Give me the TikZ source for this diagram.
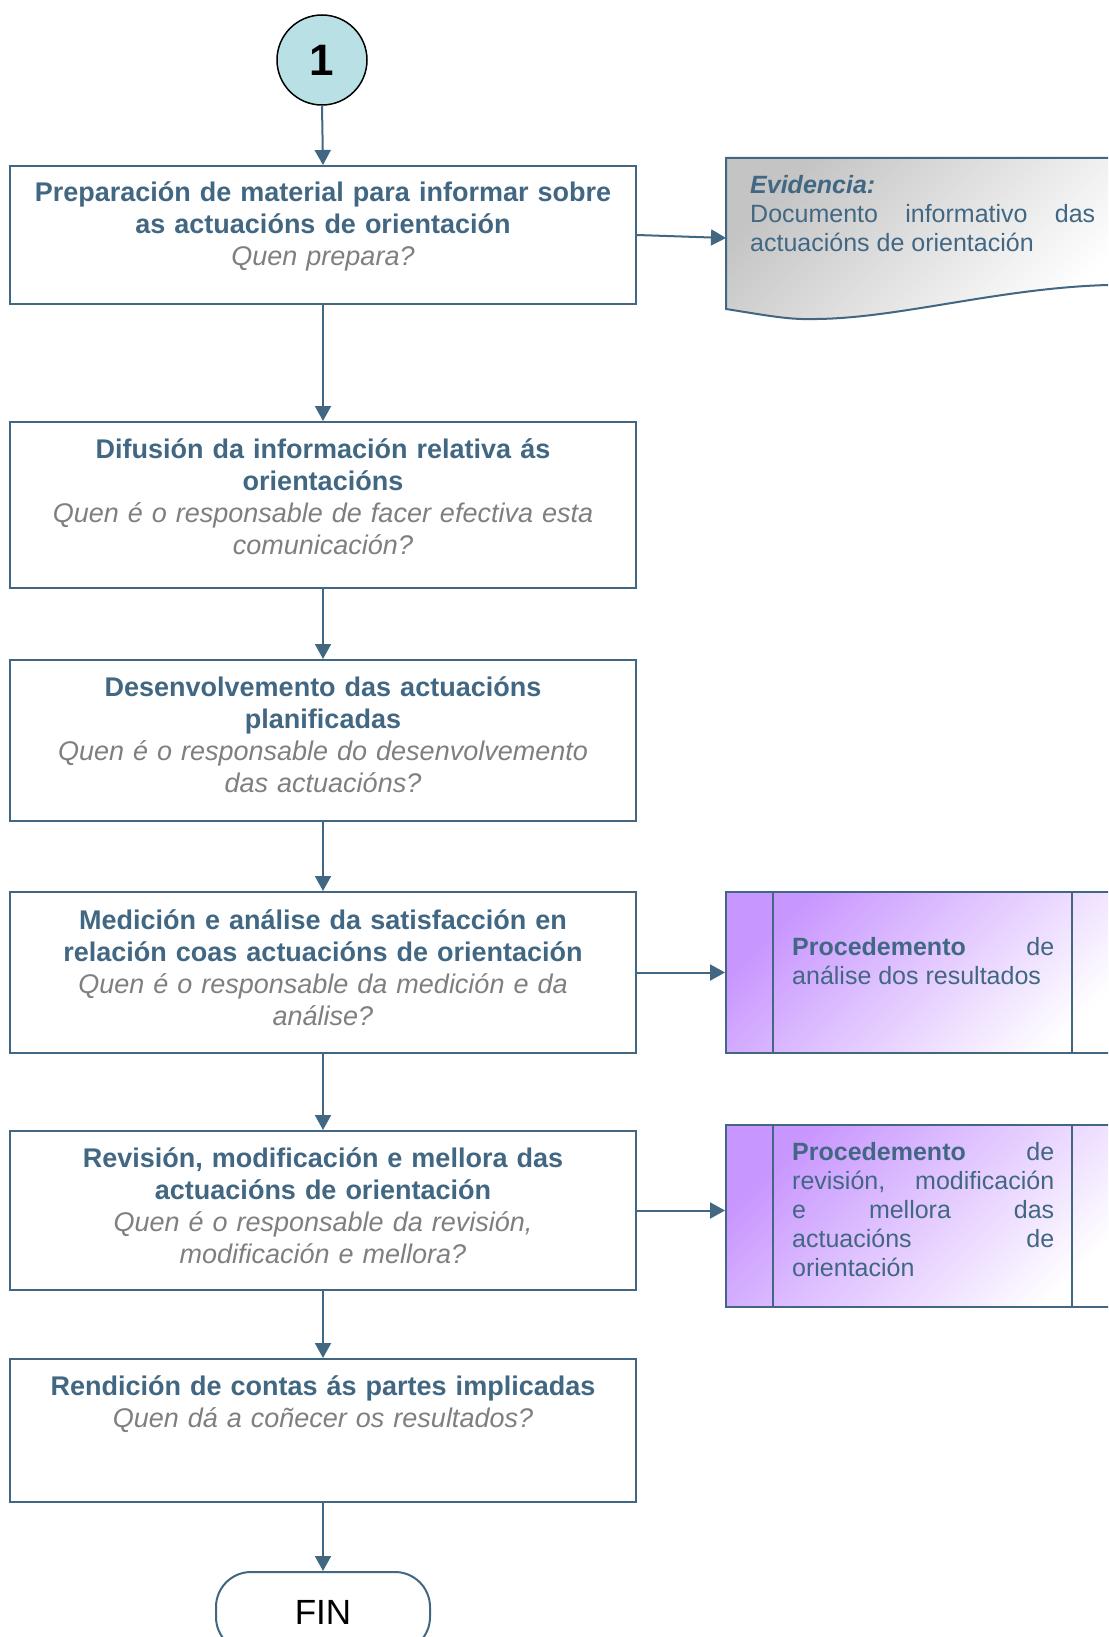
\documentclass[tikz,border=0pt]{standalone}
\usepackage{fontspec}
\setmainfont{Liberation Sans}
\usetikzlibrary{arrows.meta}
\definecolor{steel}{HTML}{416783}
\definecolor{qgray}{HTML}{7F7F7F}
\definecolor{cyanfill}{HTML}{B9E0E5}
\definecolor{lilac}{HTML}{C896FF}
\definecolor{docgray}{HTML}{C4C4C4}
\begin{document}
\begin{tikzpicture}[x=1pt,y=-1pt,
  procbox/.style={draw=steel,line width=2pt,minimum width=626pt,inner sep=0pt,anchor=north},
  boxtext/.style={anchor=base,align=center,inner sep=0pt,text width=620pt,font=\fontsize{27}{32}\selectfont},
  sidetext/.style={anchor=base west,align=justify,inner sep=0pt,text=steel,font=\fontsize{25}{29}\selectfont},
  conn/.style={draw=steel,line width=2pt,-{Triangle[width=16pt,length=15pt]}},
  purplebox/.style={draw=steel,line width=2pt,top color=lilac,bottom color=white,shading angle=45,minimum width=405pt,inner sep=0pt,anchor=north west},
]
\useasboundingbox (0,0) rectangle (1108,1637);
\clip (0,0) rectangle (1108,1637);
\fill[white] (0,0) rectangle (1108,1637);

% start circle
\node[circle,draw=black,fill=cyanfill,line width=1.5pt,minimum size=90pt,inner sep=0pt,font=\fontsize{44}{44}\selectfont\bfseries] (c1) at (322,60) {1};

% process boxes
\node[procbox,minimum height=138pt] (b1) at (323,165) {};
\node[procbox,minimum height=166pt] (b2) at (323,421) {};
\node[procbox,minimum height=161pt] (b3) at (323,659) {};
\node[procbox,minimum height=161pt] (b4) at (323,891) {};
\node[procbox,minimum height=159pt] (b5) at (323,1130) {};
\node[procbox,minimum height=143pt] (b6) at (323,1358) {};

\node[boxtext] (t1) at (323,202) {{\bfseries\color{steel}Preparación de material para informar sobre\\as actuacións de orientación}\\{\itshape\color{qgray}Quen prepara?}};
\node[boxtext] (t2) at (323,458) {{\bfseries\color{steel}Difusión da información relativa ás\\orientacións}\\{\itshape\color{qgray}Quen é o responsable de facer efectiva esta\\comunicación?}};
\node[boxtext] (t3) at (323,696) {{\bfseries\color{steel}Desenvolvemento das actuacións\\planificadas}\\{\itshape\color{qgray}Quen é o responsable do desenvolvemento\\das actuacións?}};
\node[boxtext] (t4) at (323,929) {{\bfseries\color{steel}Medición e análise da satisfacción en\\relación coas actuacións de orientación}\\{\itshape\color{qgray}Quen é o responsable da medición e da\\análise?}};
\node[boxtext] (t5) at (323,1167) {{\bfseries\color{steel}Revisión, modificación e mellora das\\actuacións de orientación}\\{\itshape\color{qgray}Quen é o responsable da revisión,\\modificación e mellora?}};
\node[boxtext] (t6) at (323,1395) {{\bfseries\color{steel}Rendición de contas ás partes implicadas}\\{\itshape\color{qgray}Quen dá a coñecer os resultados?}};

% FIN terminal
\node[draw=steel,line width=2pt,rounded corners=35pt,minimum width=214pt,minimum height=80pt,inner sep=0pt,font=\fontsize{35}{35}\selectfont] (fin) at (323,1612) {FIN};

% evidence document
\path[draw=steel,line width=2pt,top color=docgray,bottom color=white,shading angle=45]
  (726,158) -- (1130,158) -- (1130,285) -- (1108,285)
  .. controls (1000,288) and (900,318) .. (817,319)
  .. controls (790,320) and (770,316) .. (726,309) -- cycle;
\coordinate (evin) at (726,238);
\node[sidetext,text width=345pt] (ev) at (750,194) {\textbf{\textit{Evidencia:}}\\Documento informativo das\linebreak actuacións de orientación};

% procedure boxes
\node[purplebox,minimum height=161pt] (p1) at (725,891) {};
\draw[steel,line width=2pt] (773,891) -- (773,1052) (1072,891) -- (1072,1052);
\node[sidetext,text width=262pt] (pt1) at (792,955) {\textbf{Procedemento} de\linebreak análise dos resultados};

\node[purplebox,minimum height=182pt] (p2) at (725,1124) {};
\draw[steel,line width=2pt] (773,1124) -- (773,1306) (1072,1124) -- (1072,1306);
\node[sidetext,text width=262pt] (pt2) at (792,1160) {\textbf{Procedemento} de\linebreak revisión, modificación\linebreak e mellora das\linebreak actuacións de\linebreak orientación};

% connectors
\draw[conn] (c1.south) -- (b1.north);
\draw[conn] (b1.south) -- (b2.north);
\draw[conn] (b2.south) -- (b3.north);
\draw[conn] (b3.south) -- (b4.north);
\draw[conn] (b4.south) -- (b5.north);
\draw[conn] (b5.south) -- (b6.north);
\draw[conn] (b6.south) -- (fin.north);
\draw[conn] (b1.east) -- (evin);
\draw[conn] (b4.east) -- (b4.east -| p1.west);
\draw[conn] (b5.east) -- (b5.east -| p2.west);
\end{tikzpicture}
\end{document}
